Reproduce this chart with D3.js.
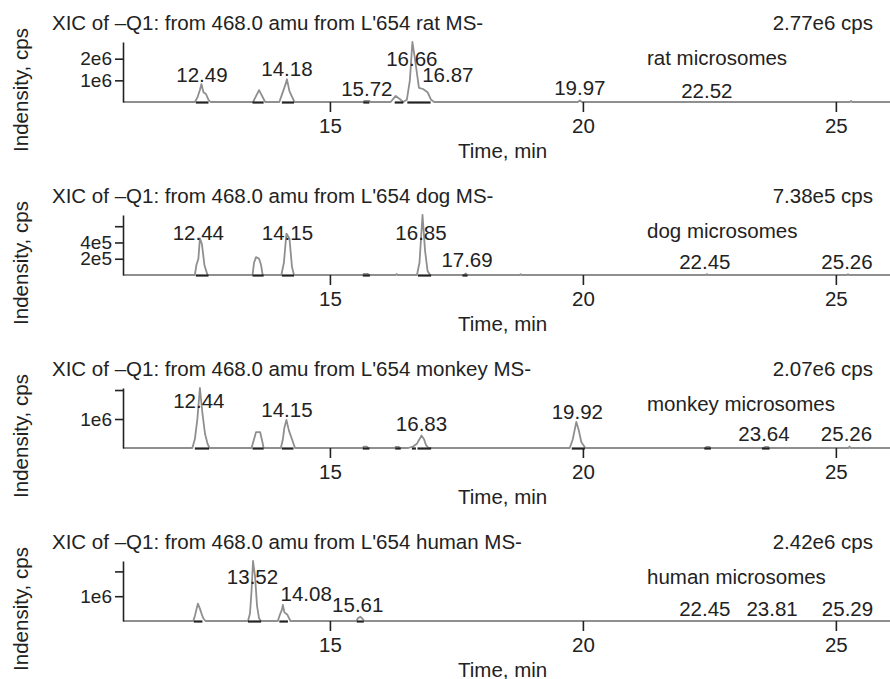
<!DOCTYPE html>
<html>
<head>
<meta charset="utf-8">
<script src="https://cdn.jsdelivr.net/npm/d3@7"></script>
<style>
  body { margin: 0; background: #fff; }
  svg text { font-family: "Liberation Sans", Arial, sans-serif; fill: #222; }
</style>
</head>
<body>
<svg width="890" height="679"></svg>
<script>
// time axis (min)
var timeDomain = [10.91, 26.07];
var timeTicks = [15, 20, 25];

var species = ["rat", "dog", "monkey", "human"];
var fullScale = [2.77e6, 7.38e5, 2.07e6, 2.42e6];
var fullScaleLabels = ["2.77e6 cps", "7.38e5 cps", "2.07e6 cps", "2.42e6 cps"];
var intensityTicks = [[1e6, 2e6], [2e5, 4e5, 6e5], [1e6, 2e6], [1e6, 2e6]];
var intensityTickLabels = [["1e6", "2e6"], ["2e5", "4e5", ""], ["1e6", ""], ["1e6", ""]];

// XIC traces: [time, cps]
var ratTrace = [
  [10.91, 0],
  [12.33, 0], [12.38, 0.2e6], [12.43, 0.55e6], [12.46, 0.83e6], [12.5, 0.45e6], [12.55, 0.37e6], [12.6, 0.1e6], [12.64, 0],
  [13.48, 0], [13.6, 0.55e6], [13.72, 0],
  [14.0, 0], [14.06, 0.4e6], [14.12, 0.8e6], [14.15, 1.05e6], [14.2, 0.5e6], [14.25, 0.25e6], [14.3, 0],
  [15.66, 0], [15.68, 0.05e6], [15.78, 0.05e6], [15.8, 0],
  [16.2, 0], [16.3, 0.28e6], [16.4, 0.1e6], [16.45, 0],
  [16.52, 0.1e6], [16.58, 1.0e6], [16.63, 2.77e6], [16.68, 2.0e6], [16.76, 0.65e6], [16.84, 0.6e6], [16.93, 0.45e6], [17.0, 0.1e6], [17.06, 0],
  [19.9, 0], [19.94, 0.07e6], [19.98, 0],
  [25.28, 0], [25.3, 0.05e6], [25.32, 0],
  [26.07, 0]
];
var dogTrace = [
  [10.91, 0],
  [12.33, 0], [12.36, 1.2e5], [12.4, 2.0e5], [12.43, 4.5e5], [12.47, 3.8e5], [12.52, 1.2e5], [12.58, 0],
  [13.47, 0], [13.5, 1.5e5], [13.54, 2.2e5], [13.6, 2.0e5], [13.64, 1.2e5], [13.67, 0],
  [14.04, 0], [14.09, 1.5e5], [14.14, 5.1e5], [14.2, 4.5e5], [14.25, 1.0e5], [14.29, 0],
  [15.65, 0], [15.67, 0.15e5], [15.75, 0.15e5], [15.77, 0],
  [16.3, 0], [16.32, 0.12e5], [16.34, 0],
  [16.72, 0], [16.77, 1.5e5], [16.83, 7.38e5], [16.88, 3.0e5], [16.93, 0.5e5], [16.98, 0],
  [17.65, 0], [17.68, 0.18e5], [17.72, 0],
  [18.75, 0], [18.77, 0.1e5], [18.79, 0],
  [22.43, 0], [22.45, 0.12e5], [22.47, 0],
  [25.22, 0], [25.24, 0.1e5], [25.26, 0],
  [26.07, 0]
];
var monkeyTrace = [
  [10.91, 0],
  [12.28, 0], [12.33, 0.3e6], [12.38, 1.0e6], [12.43, 2.07e6], [12.48, 1.2e6], [12.53, 0.5e6], [12.58, 0.15e6], [12.62, 0],
  [13.45, 0], [13.5, 0.3e6], [13.54, 0.55e6], [13.62, 0.55e6], [13.66, 0.25e6], [13.69, 0],
  [14.03, 0], [14.07, 0.3e6], [14.1, 0.7e6], [14.14, 0.97e6], [14.19, 0.6e6], [14.25, 0.3e6], [14.31, 0],
  [15.65, 0], [15.67, 0.05e6], [15.73, 0.05e6], [15.75, 0],
  [16.28, 0], [16.3, 0.04e6], [16.36, 0.04e6], [16.38, 0],
  [16.55, 0], [16.65, 0.06e6], [16.72, 0.15e6], [16.77, 0.3e6], [16.81, 0.43e6], [16.86, 0.3e6], [16.9, 0.1e6], [16.95, 0],
  [19.74, 0], [19.8, 0.3e6], [19.87, 0.9e6], [19.92, 0.6e6], [19.97, 0.2e6], [20.05, 0],
  [22.42, 0], [22.44, 0.04e6], [22.5, 0.04e6], [22.52, 0],
  [23.57, 0], [23.6, 0.04e6], [23.66, 0.04e6], [23.68, 0],
  [25.25, 0], [25.27, 0.05e6], [25.29, 0],
  [26.07, 0]
];
var humanTrace = [
  [10.91, 0],
  [12.3, 0], [12.33, 0.2e6], [12.36, 0.45e6], [12.39, 0.7e6], [12.43, 0.5e6], [12.47, 0.25e6], [12.5, 0.1e6], [12.54, 0],
  [13.38, 0], [13.42, 0.3e6], [13.45, 1.2e6], [13.48, 2.42e6], [13.52, 1.8e6], [13.56, 0.6e6], [13.6, 0.1e6], [13.64, 0],
  [13.97, 0], [14.01, 0.25e6], [14.05, 0.45e6], [14.07, 0.65e6], [14.1, 0.35e6], [14.16, 0.25e6], [14.22, 0],
  [15.52, 0], [15.56, 0.12e6], [15.6, 0.17e6], [15.64, 0.1e6], [15.68, 0],
  [26.07, 0]
];

// integrated ranges (dark base marks): [start, end]
var ratMarks = [[12.35, 12.6], [13.47, 13.69], [14.05, 14.29], [15.66, 15.78], [16.28, 16.45], [16.53, 16.99]];
var dogMarks = [[12.35, 12.6], [13.47, 13.69], [14.05, 14.29], [15.65, 15.79], [16.74, 17.0], [17.62, 17.72]];
var monkeyMarks = [[12.33, 12.61], [13.47, 13.69], [14.05, 14.28], [15.65, 15.78], [16.29, 16.4], [16.62, 16.7], [16.73, 17.0], [19.78, 20.04], [22.4, 22.53], [23.54, 23.69]];
var humanMarks = [[12.31, 12.48], [13.38, 13.64], [14.0, 14.17], [15.53, 15.67]];

// peak labels: [text, time, cps at label baseline]
var ratLabels = [["12.49", 12.47, 0.93e6], ["14.18", 14.15, 1.2e6], ["15.72", 15.73, 0.28e6], ["16.66", 16.62, 1.67e6], ["16.87", 17.33, 0.93e6], ["19.97", 19.94, 0.32e6], ["22.52", 22.45, 0.19e6]];
var dogLabels = [["12.44", 12.4, 4.3e5], ["14.15", 14.16, 4.3e5], ["16.85", 16.8, 4.3e5], ["17.69", 17.71, 0.95e5], ["22.45", 22.41, 0.7e5], ["25.26", 25.22, 0.7e5]];
var monkeyLabels = [["12.44", 12.41, 1.39e6], ["14.15", 14.15, 1.07e6], ["16.83", 16.81, 0.6e6], ["19.92", 19.89, 1.0e6], ["23.64", 23.58, 0.25e6], ["25.26", 25.21, 0.25e6]];
var humanLabels = [["13.52", 13.47, 1.48e6], ["14.08", 14.53, 0.81e6], ["15.61", 15.55, 0.38e6], ["22.45", 22.41, 0.19e6], ["23.81", 23.74, 0.19e6], ["25.29", 25.23, 0.19e6]];

var traces = [ratTrace, dogTrace, monkeyTrace, humanTrace];
var marks = [ratMarks, dogMarks, monkeyMarks, humanMarks];
var labels = [ratLabels, dogLabels, monkeyLabels, humanLabels];

var svg = d3.select("svg");
var panelH = 173, base = 102, plotH = 60, fs = 20.5;

var x = d3.scaleLinear().domain(timeDomain).range([123, 890]);

species.forEach(function(sp, i) {
  var g = svg.append("g").attr("transform", "translate(0," + (i * panelH) + ")");
  var y = d3.scaleLinear().domain([0, fullScale[i]]).range([base, base - plotH]);

  g.append("text")
    .attr("x", 52).attr("y", 30)
    .attr("font-size", fs)
    .text("XIC of \u2013Q1: from 468.0 amu from L'654 " + sp + " MS-");
  g.append("text")
    .attr("x", 873).attr("y", 30)
    .attr("text-anchor", "end")
    .attr("font-size", fs)
    .text(fullScaleLabels[i]);
  g.append("text")
    .attr("x", 647).attr("y", 65)
    .attr("font-size", fs)
    .text(sp + " microsomes");

  g.append("text")
    .attr("transform", "translate(28,90) rotate(-90)")
    .attr("text-anchor", "middle")
    .attr("font-size", fs)
    .text("Indensity, cps");

  // trace
  var line = d3.line()
    .x(function(d) { return x(d[0]); })
    .y(function(d) { return y(d[1]); });
  g.append("path")
    .datum(traces[i])
    .attr("d", line)
    .attr("fill", "none")
    .attr("stroke", "#8f8f8f")
    .attr("stroke-width", 1.8)
    .attr("stroke-linejoin", "round");

  g.selectAll("line.mark")
    .data(marks[i])
    .enter().append("line")
    .attr("class", "mark")
    .attr("x1", function(d) { return x(d[0]); })
    .attr("x2", function(d) { return x(d[1]); })
    .attr("y1", y(0) + 0.5).attr("y2", y(0) + 0.5)
    .attr("stroke", "#222")
    .attr("stroke-width", 2.2);

  // axes
  var xAxis = d3.axisBottom(x).tickValues(timeTicks).tickSize(10).tickPadding(6).tickFormat(d3.format("d"));
  var xg = g.append("g").attr("transform", "translate(0," + base + ")").call(xAxis);
  xg.select(".domain").remove();
  xg.selectAll("line").attr("stroke", "#222").attr("stroke-width", 1.6);
  xg.selectAll("text").attr("font-size", fs).attr("font-family", null).attr("fill", "#222");

  var tl = intensityTickLabels[i];
  var yAxis = d3.axisLeft(y).tickValues(intensityTicks[i]).tickSize(8).tickSizeOuter(0).tickPadding(3)
    .tickFormat(function(d, k) { return tl[k]; });
  var yg = g.append("g").attr("transform", "translate(123,0)").call(yAxis);
  yg.select(".domain").attr("stroke", "#222").attr("stroke-width", 1.6);
  yg.selectAll("line").attr("stroke", "#222").attr("stroke-width", 1.6);
  yg.selectAll("text").attr("font-size", 19).attr("font-family", null).attr("fill", "#222");

  g.append("text")
    .attr("x", 458).attr("y", 158)
    .attr("font-size", fs)
    .text("Time, min");

  g.selectAll("text.peak")
    .data(labels[i])
    .enter().append("text")
    .attr("class", "peak")
    .attr("x", function(d) { return x(d[1]); })
    .attr("y", function(d) { return y(d[2]); })
    .attr("text-anchor", "middle")
    .attr("font-size", fs)
    .text(function(d) { return d[0]; });
});
</script>
</body>
</html>
